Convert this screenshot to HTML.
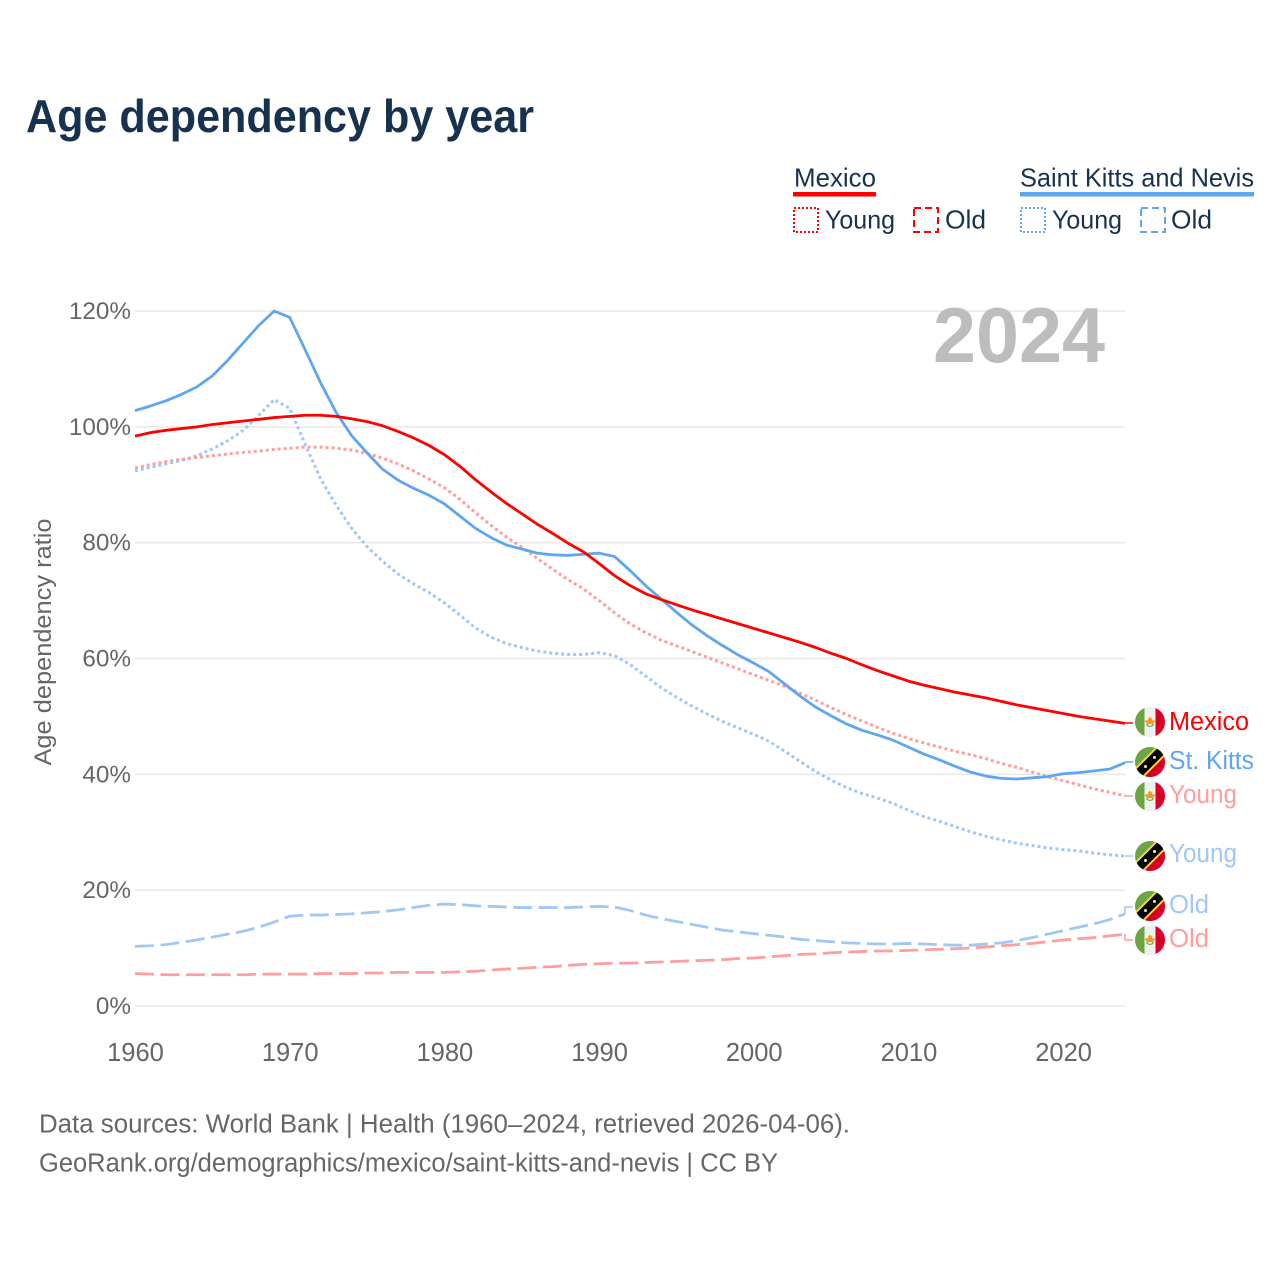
<!DOCTYPE html>
<html lang="en">
<head>
<meta charset="utf-8">
<title>Age dependency by year</title>
<style>
html,body{margin:0;padding:0;background:#fff;}
svg{display:block;}
text{font-family:"Liberation Sans",sans-serif;}
</style>
</head>
<body>
<svg id="chart" width="1280" height="1280" viewBox="0 0 1280 1280" xmlns="http://www.w3.org/2000/svg">
  <defs>
    <clipPath id="flag-clip"><circle cx="0" cy="0" r="15"/></clipPath>
    <g id="flag-mx">
      <g clip-path="url(#flag-clip)">
        <rect x="-15" y="-15" width="30" height="30" fill="#f0f0f0"/>
        <rect x="-15" y="-15" width="9.5" height="30" fill="#6da544"/>
        <rect x="5.5" y="-15" width="9.5" height="30" fill="#d80027"/>
        <path d="M-4 2 A4.2 4.2 0 0 0 4 2 L2.5 2 A2.6 2.6 0 0 1 -2.5 2 Z" fill="#6da544"/>
        <path d="M-5.5 -1.5 L-2.5 -1.5 L-1.5 -4 L0 -5 L1.5 -4 L2.5 -1.5 L5.5 -1.5 L3 2 L-3 2 Z" fill="#ff9811"/>
      </g>
    </g>
    <g id="flag-kn">
      <g clip-path="url(#flag-clip)">
        <rect x="-15" y="-15" width="30" height="30" fill="#6da544"/>
        <path d="M15 -15 L15 15 L-15 15 Z" fill="#d80027"/>
        <path d="M-24 15 L15 -24 L24 -15 L-15 24 Z" fill="#ffda44"/>
        <path d="M-21.4 15 L15 -21.4 L21.4 -15 L-15 21.4 Z" fill="#000"/>
        <circle cx="-4.5" cy="4.5" r="1.5" fill="#f0f0f0"/>
        <circle cx="4.5" cy="-4.5" r="1.5" fill="#f0f0f0"/>
      </g>
    </g>
  </defs>

  <text x="26" y="132" font-size="46" font-weight="700" fill="#17324f" textLength="508" lengthAdjust="spacingAndGlyphs">Age dependency by year</text>

  <g>
    <text x="794" y="186.5" font-size="26" fill="#17324f" textLength="82" lengthAdjust="spacingAndGlyphs">Mexico</text>
    <rect x="793" y="192" width="83" height="4.5" fill="#ff0000"/>
    <rect x="794" y="208" width="24" height="24" fill="none" stroke="#ff0000" stroke-width="2" stroke-dasharray="2 2"/>
    <text x="825" y="228.5" font-size="26" fill="#17324f" textLength="70" lengthAdjust="spacingAndGlyphs">Young</text>
    <rect x="914" y="208" width="24" height="24" fill="none" stroke="#ff0000" stroke-width="2" stroke-dasharray="7 4"/>
    <text x="945" y="228.5" font-size="26" fill="#17324f" textLength="41" lengthAdjust="spacingAndGlyphs">Old</text>

    <text x="1020" y="186.5" font-size="26" fill="#17324f" textLength="234" lengthAdjust="spacingAndGlyphs">Saint Kitts and Nevis</text>
    <rect x="1020" y="192" width="234" height="4.5" fill="#5fa5ef"/>
    <rect x="1021" y="208" width="24" height="24" fill="none" stroke="#5fa5ef" stroke-width="2" stroke-dasharray="2 2"/>
    <text x="1052" y="228.5" font-size="26" fill="#17324f" textLength="70" lengthAdjust="spacingAndGlyphs">Young</text>
    <rect x="1141" y="208" width="24" height="24" fill="none" stroke="#5fa5ef" stroke-width="2" stroke-dasharray="7 4"/>
    <text x="1171" y="228.5" font-size="26" fill="#17324f" textLength="41" lengthAdjust="spacingAndGlyphs">Old</text>
  </g>

  <g id="grid"></g>
  <g id="y-ticks"></g>
  <g id="x-ticks"></g>

  <text x="51" y="642" font-size="24.5" fill="#666" text-anchor="middle" textLength="247" lengthAdjust="spacingAndGlyphs" transform="rotate(-90 51 642)">Age dependency ratio</text>

  <text x="933" y="362" font-size="78" font-weight="700" fill="#bdbdbd" textLength="172" lengthAdjust="spacingAndGlyphs">2024</text>

  <g id="series"></g>
  <g id="leaders"></g>

  <g>
    <use href="#flag-mx" transform="translate(1150 722)"/>
    <text x="1169" y="730" font-size="25.5" fill="#ff0000" textLength="80" lengthAdjust="spacingAndGlyphs">Mexico</text>
    <use href="#flag-kn" transform="translate(1150 762)"/>
    <text x="1169" y="769" font-size="25.5" fill="#5fa5ef" textLength="85" lengthAdjust="spacingAndGlyphs">St. Kitts</text>
    <use href="#flag-mx" transform="translate(1150 796)"/>
    <text x="1169" y="803" font-size="25.5" fill="#ff9e9e" textLength="68" lengthAdjust="spacingAndGlyphs">Young</text>
    <use href="#flag-kn" transform="translate(1150 856)"/>
    <text x="1169" y="862" font-size="25.5" fill="#9fc8f5" textLength="68" lengthAdjust="spacingAndGlyphs">Young</text>
    <use href="#flag-kn" transform="translate(1150 906)"/>
    <text x="1169" y="913" font-size="25.5" fill="#9fc8f5" textLength="40" lengthAdjust="spacingAndGlyphs">Old</text>
    <use href="#flag-mx" transform="translate(1150 940)"/>
    <text x="1169" y="947" font-size="25.5" fill="#ff9e9e" textLength="40" lengthAdjust="spacingAndGlyphs">Old</text>
  </g>

  <text x="39" y="1132.5" font-size="25.5" fill="#666" textLength="811" lengthAdjust="spacingAndGlyphs">Data sources: World Bank | Health (1960–2024, retrieved 2026-04-06).</text>
  <text x="39" y="1171.5" font-size="25.5" fill="#666" textLength="739" lengthAdjust="spacingAndGlyphs">GeoRank.org/demographics/mexico/saint-kitts-and-nevis | CC BY</text>
</svg>

<script>
const yTicks = [0, 20, 40, 60, 80, 100, 120];
const xTicks = [1960, 1970, 1980, 1990, 2000, 2010, 2020];
const startYear = 1960;

const mexicoTotal = [98.4,99.0,99.4,99.7,100.0,100.4,100.7,101.0,101.3,101.6,101.8,102.0,102.0,101.8,101.4,100.9,100.2,99.2,98.1,96.8,95.2,93.2,90.9,88.8,86.8,85.0,83.2,81.6,79.9,78.4,76.4,74.3,72.6,71.2,70.2,69.3,68.4,67.6,66.8,66.0,65.2,64.4,63.6,62.8,61.9,60.9,60.0,58.9,57.9,57.0,56.1,55.4,54.8,54.2,53.7,53.2,52.6,52.0,51.5,51.0,50.5,50.0,49.6,49.2,48.8];
const mexicoYoung = [92.9,93.5,94.0,94.4,94.7,95.0,95.3,95.6,95.8,96.1,96.3,96.5,96.5,96.3,96.0,95.4,94.6,93.6,92.4,91.0,89.5,87.5,85.2,83.0,81.0,79.2,77.3,75.4,73.6,72.0,70.0,67.9,66.0,64.5,63.2,62.2,61.2,60.2,59.2,58.2,57.2,56.2,55.2,54.0,52.8,51.5,50.3,49.2,48.1,47.1,46.2,45.4,44.7,44.0,43.4,42.7,41.9,41.2,40.4,39.6,38.9,38.2,37.5,36.9,36.3];
const mexicoOld = [5.6,5.5,5.4,5.4,5.4,5.4,5.4,5.4,5.5,5.5,5.5,5.5,5.6,5.6,5.6,5.7,5.7,5.8,5.8,5.8,5.8,5.9,6.0,6.2,6.4,6.5,6.7,6.8,7.0,7.2,7.3,7.4,7.4,7.5,7.6,7.7,7.8,7.9,8.0,8.2,8.3,8.5,8.7,8.9,9.0,9.2,9.3,9.4,9.5,9.5,9.6,9.7,9.8,9.9,10.0,10.2,10.4,10.6,10.8,11.1,11.4,11.6,11.8,12.1,12.4];
const kittsTotal = [102.8,103.6,104.5,105.6,106.9,108.8,111.5,114.5,117.5,120.0,118.9,113.3,107.6,102.5,98.5,95.5,92.7,90.8,89.4,88.2,86.7,84.6,82.5,80.9,79.6,78.9,78.2,77.9,77.8,78.0,78.2,77.6,75.2,72.6,70.3,68.0,65.8,63.9,62.2,60.6,59.2,57.7,55.6,53.5,51.6,50.1,48.7,47.6,46.8,45.9,44.7,43.5,42.5,41.4,40.4,39.7,39.3,39.2,39.4,39.6,40.1,40.3,40.6,40.9,42.0];
const kittsYoung = [92.4,93.0,93.6,94.2,95.0,96.2,97.6,99.4,102.0,104.7,103.2,97.0,91.0,86.5,82.5,79.3,76.8,74.6,72.9,71.4,69.6,67.5,65.3,63.7,62.6,61.9,61.3,60.9,60.7,60.7,61.0,60.5,59.0,57.0,55.0,53.3,51.8,50.4,49.1,48.0,46.9,45.7,44.0,42.2,40.5,39.0,37.7,36.7,35.9,35.0,33.8,32.7,31.9,31.0,30.1,29.3,28.7,28.1,27.7,27.3,27.0,26.8,26.4,26.1,25.9];
const kittsOld = [10.3,10.4,10.6,11.0,11.4,11.9,12.4,12.9,13.6,14.5,15.5,15.7,15.7,15.8,15.9,16.1,16.3,16.6,17.0,17.4,17.6,17.5,17.3,17.2,17.1,17.0,17.0,17.0,17.0,17.1,17.2,17.1,16.5,15.7,15.1,14.6,14.1,13.6,13.1,12.8,12.5,12.2,11.9,11.5,11.3,11.1,10.9,10.8,10.7,10.7,10.8,10.7,10.6,10.5,10.5,10.7,10.9,11.3,11.8,12.4,13.0,13.6,14.2,14.9,15.9];

const NS = 'http://www.w3.org/2000/svg';
const xScale = function (year) { return 135 + (year - 1960) * (990 / 64); };
const yScale = function (v) { return 1006 - v * (695 / 120); };

const gridGroup = document.getElementById('grid');
const yTickGroup = document.getElementById('y-ticks');
const xTickGroup = document.getElementById('x-ticks');
const seriesGroup = document.getElementById('series');
const leaderGroup = document.getElementById('leaders');

yTicks.forEach(function (t) {
  const line = document.createElementNS(NS, 'line');
  line.setAttribute('x1', 135);
  line.setAttribute('x2', 1125);
  line.setAttribute('y1', yScale(t));
  line.setAttribute('y2', yScale(t));
  line.setAttribute('stroke', '#e8e8e8');
  line.setAttribute('stroke-width', '1.5');
  
  
  gridGroup.appendChild(line);

  const label = document.createElementNS(NS, 'text');
  label.setAttribute('x', 131);
  label.setAttribute('y', yScale(t) + 8);
  label.setAttribute('text-anchor', 'end');
  label.setAttribute('font-size', '24.3');
  label.setAttribute('fill', '#666');
  
  
  label.textContent = t + '%';
  yTickGroup.appendChild(label);
});

xTicks.forEach(function (t) {
  const label = document.createElementNS(NS, 'text');
  label.setAttribute('x', xScale(t) + 0.5);
  label.setAttribute('y', 1061);
  label.setAttribute('text-anchor', 'middle');
  label.setAttribute('font-size', '25.5');
  label.setAttribute('fill', '#666');
  
  
  label.textContent = t;
  xTickGroup.appendChild(label);
});

function drawSeries(values, color, width, dash, name) {
  const path = document.createElementNS(NS, 'path');
  const d = values.map(function (v, i) {
    return (i ? 'L' : 'M') + xScale(startYear + i).toFixed(2) + ' ' + yScale(v).toFixed(2);
  }).join(' ');
  path.setAttribute('d', d);
  path.setAttribute('fill', 'none');
  path.setAttribute('stroke', color);
  path.setAttribute('stroke-width', width);
  path.setAttribute('stroke-linejoin', 'round');
  if (dash) path.setAttribute('stroke-dasharray', dash);
  
  
  seriesGroup.appendChild(path);
}

drawSeries(kittsOld, '#9fc8f5', 2.8, '19 6.5', 'line-saint-kitts-old');
drawSeries(mexicoOld, '#ff9e9e', 2.8, '19 6.5', 'line-mexico-old');
drawSeries(kittsYoung, '#9fc8f5', 3, '3 3', 'line-saint-kitts-young');
drawSeries(mexicoYoung, '#ff9e9e', 3, '3 3', 'line-mexico-young');
drawSeries(kittsTotal, '#5fa5ef', 2.8, '', 'line-saint-kitts-total');
drawSeries(mexicoTotal, '#ff0000', 2.8, '', 'line-mexico-total');

function drawLeader(values, labelY, color, dash, name) {
  const endY = yScale(values[values.length - 1]);
  const poly = document.createElementNS(NS, 'polyline');
  poly.setAttribute('points', '1125,' + endY.toFixed(2) + ' 1125,' + labelY + ' 1133,' + labelY);
  poly.setAttribute('fill', 'none');
  poly.setAttribute('stroke', color);
  poly.setAttribute('stroke-width', '1.5');
  if (dash) poly.setAttribute('stroke-dasharray', dash);
  
  
  leaderGroup.appendChild(poly);
}

drawLeader(mexicoTotal, 723, '#ff0000', '', 'leader-mexico-total');
drawLeader(kittsTotal, 762, '#5fa5ef', '', 'leader-saint-kitts-total');
drawLeader(mexicoYoung, 796, '#ff9e9e', '', 'leader-mexico-young');
drawLeader(kittsYoung, 856, '#9fc8f5', '', 'leader-saint-kitts-young');
drawLeader(kittsOld, 907, '#9fc8f5', '', 'leader-saint-kitts-old');
drawLeader(mexicoOld, 940, '#ff9e9e', '', 'leader-mexico-old');
</script>
</body>
</html>
